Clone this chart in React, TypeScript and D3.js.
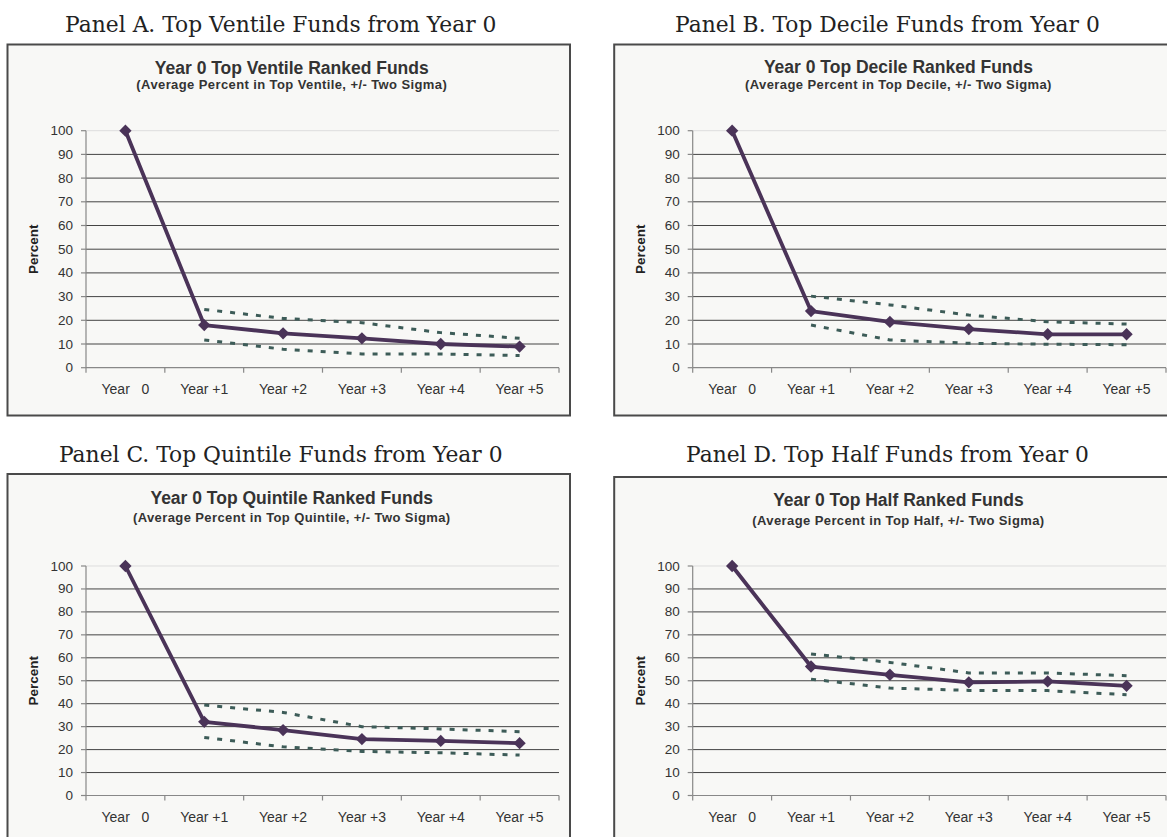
import * as d3 from "d3";

const categories = ["Year   0", "Year +1", "Year +2", "Year +3", "Year +4", "Year +5"];
const yTicks = [0, 10, 20, 30, 40, 50, 60, 70, 80, 90, 100];

const ventileMean = [100, 18, 14.5, 12.4, 10, 8.9];
const ventileUpper = [null, 24.6, 20.8, 19, 14.8, 12.4];
const ventileLower = [null, 11.7, 7.8, 5.8, 5.8, 5.1];

const decileMean = [100, 23.9, 19.3, 16.3, 14.1, 14.1];
const decileUpper = [null, 30.2, 26.5, 22.2, 19.4, 18.4];
const decileLower = [null, 18, 11.7, 10.3, 9.9, 9.7];

const quintileMean = [100, 32.1, 28.5, 24.6, 23.8, 22.8];
const quintileUpper = [null, 39.4, 36.2, 30, 29, 27.8];
const quintileLower = [null, 25.3, 21.2, 19.2, 18.6, 17.6];

const halfMean = [100, 56.2, 52.6, 49.3, 49.7, 47.8];
const halfUpper = [null, 61.7, 58, 53.4, 53.4, 52.2];
const halfLower = [null, 50.7, 46.8, 45.8, 45.7, 43.9];

const SANS = "'Liberation Sans', Arial, sans-serif";
const SERIF = "'DejaVu Serif', 'Liberation Serif', serif";

const panels = [
  {
    panelTitle: "Panel A. Top Ventile Funds from Year 0",
    title: "Year 0 Top Ventile Ranked Funds",
    subtitle: "(Average Percent in Top Ventile, +/- Two Sigma)",
    mean: ventileMean, upper: ventileUpper, lower: ventileLower,
    box: { x: 7.5, y: 44.5, w: 562.5, h: 371 },
    plot: { left: 86, right: 559, top: 130.7, bottom: 367.7 },
    panelTitleY: 24, titleY: 67.7, subtitleY: 84.3, xLabelY: 389,
  },
  {
    panelTitle: "Panel B. Top Decile Funds from Year 0",
    title: "Year 0 Top Decile Ranked Funds",
    subtitle: "(Average Percent in Top Decile, +/- Two Sigma)",
    mean: decileMean, upper: decileUpper, lower: decileLower,
    box: { x: 614.2, y: 44.5, w: 562.5, h: 371 },
    plot: { left: 692.7, right: 1166, top: 130.7, bottom: 367.7 },
    panelTitleY: 24, titleY: 66.7, subtitleY: 84.3, xLabelY: 389,
  },
  {
    panelTitle: "Panel C. Top Quintile Funds from Year 0",
    title: "Year 0 Top Quintile Ranked Funds",
    subtitle: "(Average Percent in Top Quintile, +/- Two Sigma)",
    mean: quintileMean, upper: quintileUpper, lower: quintileLower,
    box: { x: 7.5, y: 474, w: 562.5, h: 400 },
    plot: { left: 86, right: 559, top: 566, bottom: 795.5 },
    panelTitleY: 454, titleY: 498.3, subtitleY: 517.7, xLabelY: 817,
  },
  {
    panelTitle: "Panel D. Top Half Funds from Year 0",
    title: "Year 0 Top Half Ranked Funds",
    subtitle: "(Average Percent in Top Half, +/- Two Sigma)",
    mean: halfMean, upper: halfUpper, lower: halfLower,
    box: { x: 614.2, y: 477, w: 562.5, h: 400 },
    plot: { left: 692.7, right: 1166, top: 566, bottom: 795.5 },
    panelTitleY: 454, titleY: 500, subtitleY: 520, xLabelY: 817,
  },
];

function Panel({ p }) {
  const x = d3.scaleBand(categories, [p.plot.left, p.plot.right]);
  const y = d3.scaleLinear([0, 100], [p.plot.bottom, p.plot.top]);
  const cx = (i) => x(categories[i]) + x.bandwidth() / 2;

  const line = d3.line<number | null>()
    .defined((d) => d != null)
    .x((d, i) => cx(i))
    .y((d) => y(d));

  const diamond = d3.symbol(d3.symbolSquare, 76)();
  const boxCx = p.box.x + p.box.w / 2;

  return (
    <g>
      <text x={boxCx - 8} y={p.panelTitleY} textAnchor="middle" dominantBaseline="central"
        fontFamily={SERIF} fontSize={21.8} fill="#222">{p.panelTitle}</text>
      <rect x={p.box.x} y={p.box.y} width={p.box.w} height={p.box.h}
        fill="#f8f8f6" stroke="#4a4a4a" strokeWidth={2} />
      <text x={boxCx + 3} y={p.titleY} textAnchor="middle" dominantBaseline="central"
        fontFamily={SANS} fontWeight="bold" fontSize={17.5} fill="#333">{p.title}</text>
      <text x={boxCx + 3} y={p.subtitleY} textAnchor="middle" dominantBaseline="central"
        fontFamily={SANS} fontWeight="bold" fontSize={13} letterSpacing={0.4} fill="#333">{p.subtitle}</text>

      {yTicks.filter((t) => t > 0).map((t) => (
        <line key={"g" + t} x1={p.plot.left} x2={p.plot.right} y1={y(t)} y2={y(t)}
          stroke={t === 100 ? "#ddd" : "#444"} strokeWidth={1} />
      ))}
      <line x1={p.plot.left} x2={p.plot.left} y1={y(100)} y2={y(0)} stroke="#888" strokeWidth={1.2} />
      <line x1={p.plot.left} x2={p.plot.right} y1={y(0)} y2={y(0)} stroke="#888" strokeWidth={1.2} />
      {yTicks.map((t) => (
        <g key={"t" + t}>
          <line x1={p.plot.left - 5} x2={p.plot.left} y1={y(t)} y2={y(t)} stroke="#888" strokeWidth={1.2} />
          <text x={p.plot.left - 13} y={y(t)} textAnchor="end" dominantBaseline="central"
            fontFamily={SANS} fontSize={13.5} fill="#333">{t}</text>
        </g>
      ))}
      {categories.map((c, i) => (
        <line key={"xt" + i} x1={x(c)} x2={x(c)} y1={y(0)} y2={y(0) + 5} stroke="#888" strokeWidth={1.2} />
      ))}
      <line x1={p.plot.right} x2={p.plot.right} y1={y(0)} y2={y(0) + 5} stroke="#888" strokeWidth={1.2} />
      {categories.map((c, i) => (
        <text key={"xl" + i} x={cx(i)} y={p.xLabelY} textAnchor="middle" dominantBaseline="central"
          fontFamily={SANS} fontSize={14} fill="#333" style={{ whiteSpace: "pre" }}>{c}</text>
      ))}
      <text transform={`translate(${p.plot.left - 52.5},${(y(0) + y(100)) / 2}) rotate(-90)`}
        textAnchor="middle" dominantBaseline="central" fontFamily={SANS} fontWeight="bold"
        fontSize={13.5} fill="#222">Percent</text>

      <path d={line(p.upper)} fill="none" stroke="#3d5c58" strokeWidth={3} strokeDasharray="5,8" />
      <path d={line(p.lower)} fill="none" stroke="#3d5c58" strokeWidth={3} strokeDasharray="5,8" />
      <path d={line(p.mean)} fill="none" stroke="#4a3358" strokeWidth={3.8} strokeLinejoin="round" />
      {p.mean.map((v, i) => (
        <path key={"m" + i} d={diamond} fill="#4a3358"
          transform={`translate(${cx(i)},${y(v)}) rotate(45)`} />
      ))}
    </g>
  );
}

export default function App() {
  return (
    <svg width={1167} height={837} style={{ position: "absolute", left: 0, top: 0, background: "#fff" }}>
      {panels.map((p, i) => <Panel key={i} p={p} />)}
    </svg>
  );
}
